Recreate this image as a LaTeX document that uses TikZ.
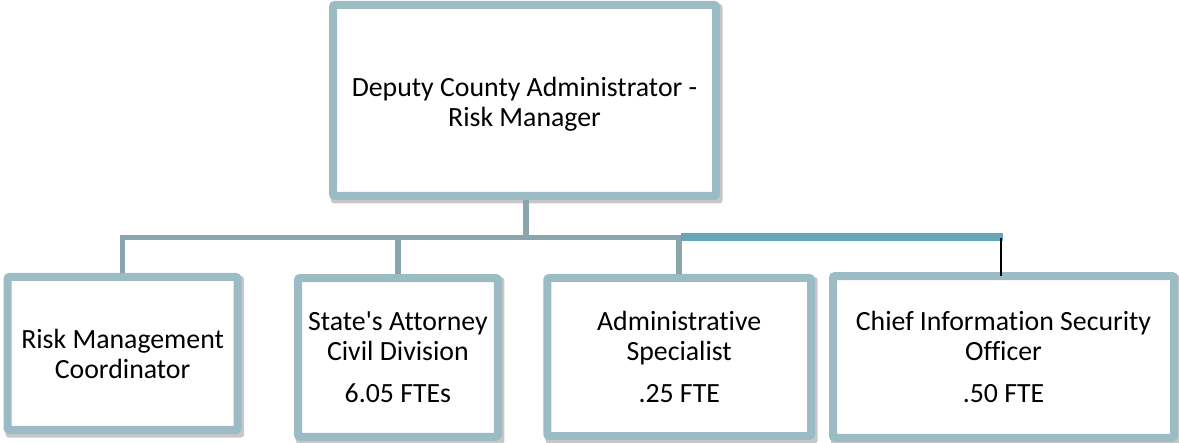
\documentclass[tikz,border=0pt]{standalone}
\usepackage{fontspec}
\setmainfont{Carlito}[Ligatures={TeXOff,NoCommon}]
\usetikzlibrary{calc,backgrounds}
\definecolor{boxborder}{HTML}{9BBCC5}
\definecolor{connc}{HTML}{88A5AC}
\definecolor{tealc}{HTML}{66A6B9}
\begin{document}
\begin{tikzpicture}[x=1bp,y=-1bp,
  orgbox/.style={draw=boxborder, line width=8bp, fill=white, rounded corners=2bp,
    align=center, inner sep=0pt, font=\fontsize{27.8bp}{30bp}\selectfont},
  connline/.style={draw=connc, line width=5.5bp, line join=miter},
  tealline/.style={draw=tealc, line width=8bp},
  tapline/.style={draw=black, line width=2bp},
  shadowbox/.style={fill=black, fill opacity=0.22, rounded corners=3bp}
]
\useasboundingbox (0,0) rectangle (1179,443);

\node[orgbox, minimum width=383bp, minimum height=191bp] (top) at (524.5,100.5)
  {\rule{0pt}{27bp}Deputy County Administrator -\\Risk Manager};
\node[orgbox, minimum width=230bp, minimum height=153bp] (b1) at (122.6,353.5)
  {Risk Management\\Coordinator};
\node[orgbox, minimum width=199.7bp, minimum height=158.7bp] (b2) at (397.9,357.4)
  {State's Attorney\\Civil Division\\[12bp]6.05 FTEs};
\node[orgbox, minimum width=263.7bp, minimum height=158bp] (b3) at (679.2,357)
  {Administrative\\Specialist\\[12bp].25 FTE};
\node[orgbox, minimum width=341bp, minimum height=161.7bp] (b4) at (1003.5,356.9)
  {Chief Information Security\\Officer\\[12bp].50 FTE};

\begin{scope}[on background layer]
  \foreach \b in {top,b1,b2,b3,b4}{
    \fill[shadowbox] ($(\b.north west)+(2,3)$) rectangle ($(\b.south east)+(2.5,3.5)$);
  }
\end{scope}

\coordinate (bar) at (526,237.7);
\draw[connline] (bar |- top.south) -- (bar);
\draw[connline] (b1.north) -- (b1.north |- bar) -- (b3.north |- bar) -- (b3.north);
\draw[connline] (b2.north |- bar) -- (b2.north);

\coordinate (t1) at (681,236.7);
\coordinate (t2) at (1002.7,236.7);
\draw[tealline] (t1) -- (t2);

\coordinate (tap) at (1001,238);
\draw[tapline] (tap) -- ($(tap |- b4.north)+(0,4)$);
\end{tikzpicture}
\end{document}
